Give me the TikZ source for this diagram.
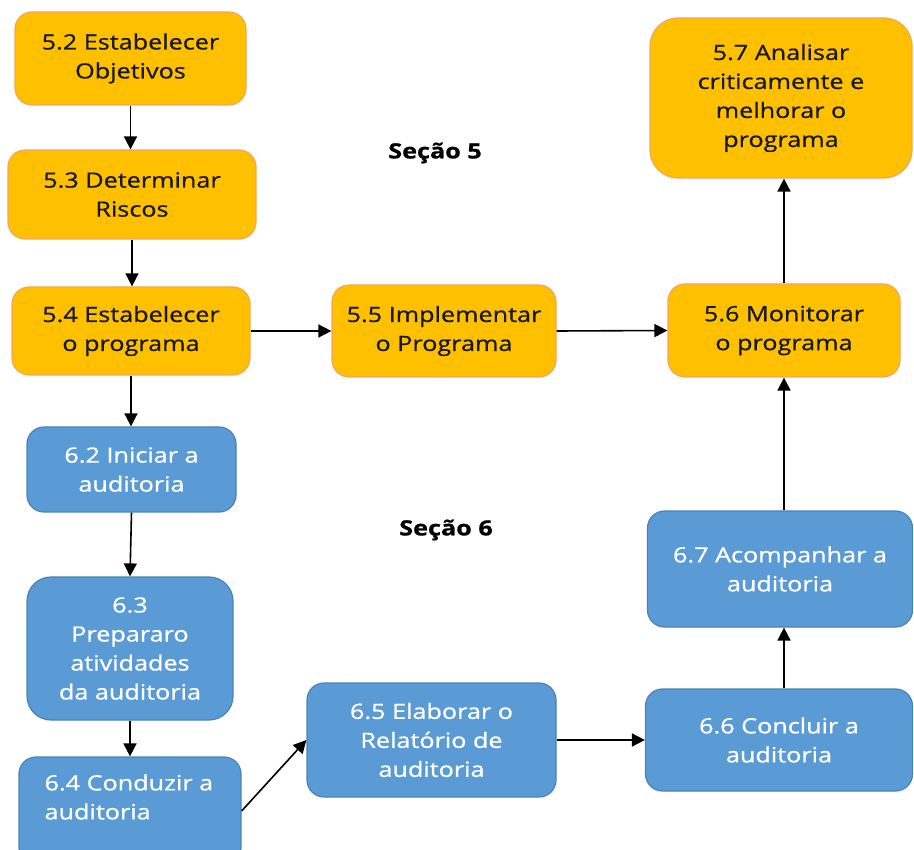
\documentclass[tikz,border=0pt]{standalone}
\usepackage{fontspec}
\setmainfont[FakeStretch=1.2,FakeBold=0.8]{Open Sans}
\usetikzlibrary{arrows.meta}
\definecolor{orF}{HTML}{FFC000}
\definecolor{orD}{HTML}{F2A65A}
\definecolor{blF}{HTML}{5B9BD5}
\definecolor{blD}{HTML}{4A82B8}
\tikzset{
  box/.style={rectangle, rounded corners=17pt, line width=1.2pt, align=center, inner sep=0pt,
    font=\fontsize{21}{29}\selectfont},
  obox/.style={box, fill=orF, draw=orD, text=black!90},
  bbox/.style={box, fill=blF, draw=blD, text=white},
  arr/.style={line width=1.6pt, -{Triangle[length=13pt,width=13pt]}},
  sec/.style={font=\fontsize{21}{24}\selectfont\bfseries}
}
\begin{document}
\begin{tikzpicture}[x=1pt,y=-1pt]
\useasboundingbox (0,0) rectangle (914,850);
\begin{scope}
\clip (0,0) rectangle (914,850);
\node[obox, minimum width=231pt, minimum height=93pt] (n52) at (130.5,58.5) {5.2 Estabelecer\\Objetivos};
\node[obox, minimum width=248pt, minimum height=89pt] (n53) at (132,194.5) {5.3 Determinar\\Riscos};
\node[obox, minimum width=238pt, minimum height=88pt] (n54) at (131,331) {5.4 Estabelecer\\o programa};
\node[obox, minimum width=224pt, minimum height=92pt] (n55) at (444,331) {5.5 Implementar\\o Programa};
\node[obox, minimum width=232pt, minimum height=93pt] (n56) at (784,330.5) {5.6 Monitorar\\o programa};
\node[obox, rounded corners=28pt, minimum width=262pt, minimum height=160pt] (n57) at (781,98) {5.7 Analisar\\criticamente e\\melhorar o\\programa};
\node[bbox, minimum width=209pt, minimum height=85pt] (n62) at (131.5,469.5) {6.2 Iniciar a\\auditoria};
\node[bbox, rounded corners=24pt, minimum width=206pt, minimum height=143pt] (n63) at (130,648.5) {6.3\\Prepararo\\atividades\\da auditoria};
\node[bbox, minimum width=222pt, minimum height=108pt] (n64) at (130,811) {};
\node[box, text=white, align=left, anchor=west] (t64) at (44,797) {6.4 Conduzir a\\auditoria};
\node[bbox, minimum width=249pt, minimum height=114pt] (n65) at (431.5,740) {6.5 Elaborar o\\Relatório de\\auditoria};
\node[bbox, minimum width=267pt, minimum height=102pt] (n66) at (779,740) {6.6 Concluir a\\auditoria};
\node[bbox, minimum width=265pt, minimum height=116pt] (n67) at (780,569) {6.7 Acompanhar a\\auditoria};
\end{scope}
\node[sec] (s5) at (435,153) {Seção 5};
\node[sec] (s6) at (446,530) {Seção 6};
\draw[arr] (n52.south) -- (n52.south |- n53.north);
\draw[arr] (n53.south) -- (n53.south |- n54.north);
\draw[arr] (n54.south) -- (n54.south |- n62.north);
\draw[arr] (n62.south) -- (n63.north);
\draw[arr] (n63.south) -- (n63.south |- n64.north);
\draw[arr] (n64.east) -- (n65.west);
\draw[arr] (n65.east) -- (n66.west);
\draw[arr] (n54.east) -- (n55.west);
\draw[arr] (n55.east) -- (n56.west);
\draw[arr] (n66.north -| n56.south) -- (n67.south -| n56.south);
\draw[arr] (n67.north -| n56.south) -- (n56.south);
\draw[arr] (n56.north) -- (n56.north |- n57.south);
\end{tikzpicture}
\end{document}
